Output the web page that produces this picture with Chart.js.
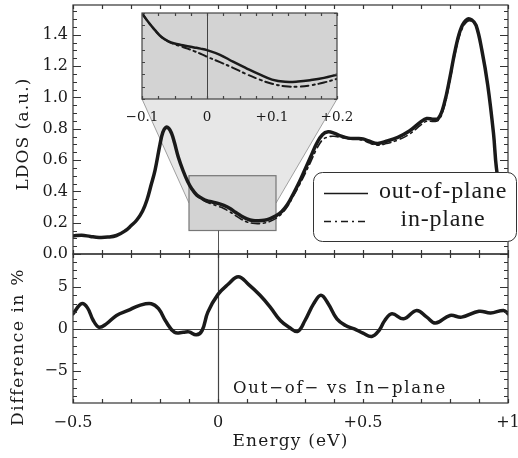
<!DOCTYPE html>
<html>
<head>
<meta charset="utf-8">
<script src="https://cdn.jsdelivr.net/npm/chart.js@4.4.1/dist/chart.umd.min.js"></script>
<style>
  html, body { margin: 0; padding: 0; background: #fff; }
  #wrap { position: relative; width: 518px; height: 458px; }
  #wrap canvas { position: absolute; left: 0; top: 0; }
</style>
</head>
<body>
<div id="wrap">
  <canvas id="diffChart" width="518" height="458"></canvas>
  <canvas id="ldosChart" width="518" height="458"></canvas>
  <canvas id="insetChart" width="518" height="458"></canvas>
</div>
<script>
// Données
const energy = [-0.50, -0.47, -0.44, -0.41, -0.38, -0.35, -0.32, -0.30, -0.28, -0.26, -0.245, -0.23, -0.217, -0.20, -0.19, -0.18, -0.17, -0.16, -0.15, -0.137, -0.12, -0.105, -0.09, -0.073, -0.055, -0.039, -0.02, 0.00, 0.02, 0.04, 0.06, 0.08, 0.10, 0.12, 0.14, 0.16, 0.18, 0.20, 0.22, 0.24, 0.26, 0.28, 0.30, 0.32, 0.34, 0.36, 0.38, 0.40, 0.42, 0.45, 0.48, 0.50, 0.52, 0.55, 0.58, 0.62, 0.66, 0.70, 0.72, 0.74, 0.76, 0.78, 0.80, 0.82, 0.84, 0.86, 0.875, 0.89, 0.91, 0.93, 0.95, 0.96, 0.98, 1.00];
const ldosOut = [0.115, 0.120, 0.112, 0.106, 0.108, 0.118, 0.148, 0.180, 0.217, 0.275, 0.345, 0.445, 0.536, 0.700, 0.778, 0.808, 0.803, 0.770, 0.710, 0.620, 0.530, 0.465, 0.415, 0.376, 0.355, 0.340, 0.332, 0.323, 0.310, 0.292, 0.267, 0.243, 0.225, 0.214, 0.212, 0.215, 0.226, 0.244, 0.272, 0.318, 0.385, 0.458, 0.540, 0.622, 0.705, 0.762, 0.780, 0.772, 0.756, 0.740, 0.738, 0.735, 0.722, 0.706, 0.720, 0.745, 0.785, 0.845, 0.865, 0.861, 0.866, 0.960, 1.130, 1.320, 1.450, 1.500, 1.495, 1.460, 1.300, 1.080, 0.770, 0.550, 0.300, 0.150];
const ldosIn = [0.115, 0.120, 0.112, 0.106, 0.108, 0.118, 0.148, 0.180, 0.217, 0.275, 0.345, 0.445, 0.536, 0.700, 0.778, 0.808, 0.803, 0.770, 0.710, 0.620, 0.530, 0.463, 0.412, 0.372, 0.348, 0.332, 0.318, 0.305, 0.290, 0.270, 0.246, 0.222, 0.205, 0.196, 0.194, 0.198, 0.209, 0.228, 0.258, 0.305, 0.370, 0.438, 0.512, 0.590, 0.670, 0.728, 0.748, 0.752, 0.745, 0.736, 0.732, 0.726, 0.710, 0.695, 0.705, 0.728, 0.765, 0.825, 0.848, 0.847, 0.853, 0.940, 1.110, 1.300, 1.430, 1.485, 1.486, 1.455, 1.300, 1.085, 0.780, 0.565, 0.310, 0.160];

const insetEnergy = [-0.10, -0.09, -0.08, -0.07, -0.06, -0.05, -0.04, -0.03, -0.02, -0.01, 0.00, 0.02, 0.04, 0.06, 0.08, 0.10, 0.12, 0.14, 0.16, 0.18, 0.20];
const insetOut = [0.499, 0.462, 0.430, 0.402, 0.386, 0.376, 0.370, 0.365, 0.360, 0.355, 0.349, 0.330, 0.302, 0.276, 0.251, 0.229, 0.220, 0.221, 0.227, 0.236, 0.249];
const insetIn = [0.499, 0.462, 0.430, 0.402, 0.385, 0.373, 0.364, 0.355, 0.345, 0.334, 0.322, 0.300, 0.277, 0.252, 0.230, 0.212, 0.202, 0.200, 0.206, 0.217, 0.232];

const diffEnergy = [-0.50, -0.47, -0.45, -0.43, -0.41, -0.385, -0.35, -0.31, -0.27, -0.23, -0.205, -0.18, -0.15, -0.12, -0.10, -0.075, -0.055, -0.035, 0.00, 0.035, 0.07, 0.105, 0.145, 0.18, 0.215, 0.245, 0.275, 0.30, 0.33, 0.355, 0.38, 0.41, 0.44, 0.47, 0.50, 0.53, 0.555, 0.575, 0.60, 0.64, 0.685, 0.72, 0.75, 0.80, 0.84, 0.90, 0.94, 0.985, 1.00];
const diffPct = [1.8, 3.0, 2.5, 1.0, 0.2, 0.6, 1.6, 2.2, 2.8, 3.0, 2.4, 0.9, -0.4, -0.4, -0.35, -0.7, -0.2, 2.0, 4.1, 5.3, 6.2, 5.3, 4.0, 2.6, 1.0, 0.2, -0.3, 1.0, 3.0, 4.0, 3.0, 1.2, 0.4, 0.0, -0.5, -0.9, -0.2, 1.0, 1.8, 1.2, 2.2, 1.4, 0.7, 1.6, 1.4, 2.1, 1.9, 2.2, 1.8];

const xTickValues = [-0.5, 0, 0.5, 1];
const xTickLabels = ['\u22120.5', '0', '+0.5', '+1'];
const ldosTickValues = [0, 0.2, 0.4, 0.6, 0.8, 1.0, 1.2, 1.4];
const diffTickValues = [-5, 0, 5];
const diffTickLabels = ['\u22125', '0', '5'];
const insetTickValues = [-0.1, 0, 0.1, 0.2];
const insetTickLabels = ['\u22120.1', '0', '+0.1', '+0.2'];
const legendLabels = ['out-of-plane', 'in-plane'];

// Mise en page (pixels)
const PLOT = { left: 73, right: 508, top: 5, mid: 254, bottom: 403 };
const INSET = { left: 142, right: 337, top: 13, bottom: 99 };
const ZOOM = { x0: -0.1, x1: 0.2, y0: 0.15, y1: 0.5 };
const INK = '#1a1a1a';
const tickFont = { family: 'DejaVu Serif', size: 16 };

const pts = (xs, ys) => xs.map((x, i) => ({ x, y: ys[i] }));

function steps(min, max, step) {
    const out = [];
    for (let k = Math.ceil(min / step - 1e-6); k * step <= max + 1e-9; k++) out.push(k * step);
    return out;
}
const isMult = (v, m) => Math.abs(v / m - Math.round(v / m)) < 1e-6;

function drawText(ctx, txt, x, y, font, spacing, angle, align) {
    ctx.save();
    ctx.translate(x, y);
    if (angle) ctx.rotate(angle);
    ctx.font = font;
    ctx.letterSpacing = spacing + 'px';
    ctx.fillStyle = INK;
    ctx.textAlign = align || 'center';
    ctx.textBaseline = 'middle';
    ctx.fillText(txt, 0, 0);
    ctx.restore();
}

// cadre + graduations vers l'intérieur
const framePlugin = {
    id: 'frame',
    afterDatasetsDraw(chart, args, o) {
        const { ctx, chartArea: a } = chart;
        const x = chart.scales.x, y = chart.scales.y;
        ctx.save();
        ctx.strokeStyle = o.color;
        ctx.lineWidth = o.lineWidth;
        ctx.beginPath();
        steps(x.min, x.max, o.xStep).forEach(v => {
            const p = Math.round(x.getPixelForValue(v)) + 0.5;
            ctx.moveTo(p, a.top); ctx.lineTo(p, a.top + o.minor);
            ctx.moveTo(p, a.bottom); ctx.lineTo(p, a.bottom - o.minor);
        });
        steps(y.min, y.max, o.yStep).forEach(v => {
            const p = Math.round(y.getPixelForValue(v)) + 0.5;
            const len = o.yMajor && isMult(v, o.yMajor) ? o.major : o.minor;
            ctx.moveTo(a.left, p); ctx.lineTo(a.left + len, p);
            ctx.moveTo(a.right, p); ctx.lineTo(a.right - len, p);
        });
        ctx.stroke();
        ctx.strokeRect(a.left, a.top, a.width, a.height);
        ctx.restore();
    }
};

const base = {
    responsive: false,
    animation: false,
    devicePixelRatio: 1,
    events: [],
    elements: {
        point: { radius: 0 },
        line: { tension: 0.4, borderCapStyle: 'round', borderJoinStyle: 'round', fill: false }
    }
};

function hiddenGrid() {
    return { grid: { display: false, drawTicks: false }, border: { display: false } };
}

// 1. Panneau du bas : différence en %
new Chart(document.getElementById('diffChart'), {
    type: 'line',
    data: {
        datasets: [{ data: pts(diffEnergy, diffPct), borderColor: INK, borderWidth: 3.5 }]
    },
    options: {
        ...base,
        layout: { padding: { left: 0, top: PLOT.mid, right: 518 - PLOT.right, bottom: 0 } },
        scales: {
            x: {
                type: 'linear', min: -0.5, max: 1, ...hiddenGrid(),
                afterBuildTicks: s => { s.ticks = xTickValues.map(v => ({ value: v })); },
                afterFit: s => { s.height = 458 - PLOT.bottom; s.paddingLeft = 0; s.paddingRight = 0; },
                ticks: { padding: 10, font: tickFont, color: INK, autoSkip: false, maxRotation: 0, callback: (v, i) => xTickLabels[i] }
            },
            y: {
                type: 'linear', min: -8.8, max: 8.9, ...hiddenGrid(),
                afterBuildTicks: s => { s.ticks = diffTickValues.map(v => ({ value: v })); },
                afterFit: s => { s.width = PLOT.left; s.paddingTop = 0; s.paddingBottom = 0; },
                ticks: { padding: 5, font: tickFont, color: INK, autoSkip: false, callback: (v, i) => diffTickLabels[i] }
            }
        },
        plugins: {
            legend: { display: false },
            tooltip: { enabled: false },
            frame: { color: '#333', lineWidth: 1.2, xStep: 0.1, yStep: 1, yMajor: 5, major: 8, minor: 4 }
        }
    },
    plugins: [framePlugin, {
        id: 'diffDeco',
        beforeDatasetsDraw(chart) {
            const { ctx, chartArea: a, scales: { x, y } } = chart;
            ctx.save();
            ctx.strokeStyle = '#444';
            ctx.lineWidth = 1.2;
            ctx.beginPath();
            const py = Math.round(y.getPixelForValue(0)) + 0.5;
            ctx.moveTo(a.left, py); ctx.lineTo(a.right, py);
            const px = Math.round(x.getPixelForValue(0)) + 0.5;
            ctx.moveTo(px, a.top); ctx.lineTo(px, a.bottom);
            ctx.stroke();
            ctx.restore();
        },
        afterDraw(chart) {
            const { ctx, chartArea: a } = chart;
            drawText(ctx, 'Out\u2212of\u2212 vs In\u2212plane', 233, a.bottom - 14, '16.5px "DejaVu Serif"', 1.8, 0, 'left');
            drawText(ctx, 'Difference in %', 19, 347, '17px "DejaVu Serif"', 1.6, -Math.PI / 2);
            drawText(ctx, 'Energy (eV)', (a.left + a.right) / 2, 442, '17px "DejaVu Serif"', 1.2);
        }
    }]
});

// 2. Panneau du haut : LDOS
new Chart(document.getElementById('ldosChart'), {
    type: 'line',
    data: {
        datasets: [
            { label: legendLabels[0], data: pts(energy, ldosOut), borderColor: INK, borderWidth: 3.5 },
            { label: legendLabels[1], data: pts(energy, ldosIn), borderColor: INK, borderWidth: 1.6, borderDash: [8, 4, 2, 4] }
        ]
    },
    options: {
        ...base,
        layout: { padding: { left: 0, top: PLOT.top, right: 518 - PLOT.right, bottom: 458 - PLOT.mid } },
        scales: {
            x: { type: 'linear', min: -0.5, max: 1, display: false },
            y: {
                type: 'linear', min: 0, max: 1.59, ...hiddenGrid(),
                afterBuildTicks: s => { s.ticks = ldosTickValues.map(v => ({ value: v })); },
                afterFit: s => { s.width = PLOT.left; s.paddingTop = 0; s.paddingBottom = 0; },
                ticks: { padding: 5, font: tickFont, color: INK, autoSkip: false, callback: v => v.toFixed(1) }
            }
        },
        plugins: {
            legend: { display: false },
            tooltip: { enabled: false },
            frame: { color: '#333', lineWidth: 1.2, xStep: 0.1, yStep: 0.05, yMajor: 0.2, major: 8, minor: 4 }
        }
    },
    plugins: [framePlugin, {
        id: 'zoomDeco',
        beforeDatasetsDraw(chart) {
            const { ctx, chartArea: a, scales: { x, y } } = chart;
            const bx0 = x.getPixelForValue(ZOOM.x0), bx1 = x.getPixelForValue(ZOOM.x1);
            const byTop = y.getPixelForValue(ZOOM.y1), byBot = y.getPixelForValue(ZOOM.y0);
            const midY = (byTop + byBot) / 2;
            ctx.save();
            // cône de zoom
            ctx.fillStyle = '#e7e7e7';
            ctx.beginPath();
            ctx.moveTo(INSET.left, INSET.bottom);
            ctx.lineTo(INSET.right, INSET.bottom);
            ctx.lineTo(bx1, midY);
            ctx.lineTo(bx0, midY);
            ctx.closePath();
            ctx.fill();
            ctx.strokeStyle = '#8a8a8a';
            ctx.lineWidth = 0.8;
            ctx.beginPath();
            ctx.moveTo(INSET.left, INSET.bottom); ctx.lineTo(bx0, midY);
            ctx.moveTo(INSET.right, INSET.bottom); ctx.lineTo(bx1, midY);
            ctx.stroke();
            // zone agrandie
            ctx.fillStyle = '#d3d3d3';
            ctx.fillRect(bx0, byTop, bx1 - bx0, byBot - byTop);
            ctx.strokeStyle = '#777';
            ctx.lineWidth = 1.2;
            ctx.strokeRect(bx0, byTop, bx1 - bx0, byBot - byTop);
            // trait vertical à E = 0
            const px = Math.round(x.getPixelForValue(0)) + 0.5;
            ctx.strokeStyle = '#555';
            ctx.lineWidth = 1;
            ctx.beginPath();
            ctx.moveTo(px, byBot); ctx.lineTo(px, a.bottom);
            ctx.stroke();
            ctx.restore();
        },
        afterDraw(chart) {
            const { ctx } = chart;
            drawText(ctx, 'LDOS (a.u.)', 24, 134, '17px "DejaVu Serif"', 1.1, -Math.PI / 2);
            // légende
            ctx.save();
            ctx.fillStyle = '#fff';
            ctx.strokeStyle = '#333';
            ctx.lineWidth = 1;
            ctx.beginPath();
            ctx.roundRect(313.5, 172.5, 203, 69, 9);
            ctx.fill();
            ctx.stroke();
            ctx.strokeStyle = INK;
            ctx.lineWidth = 1.5;
            ctx.beginPath();
            ctx.moveTo(324, 193.5); ctx.lineTo(368, 193.5);
            ctx.stroke();
            ctx.setLineDash([7, 4, 2, 4]);
            ctx.beginPath();
            ctx.moveTo(324, 221.5); ctx.lineTo(368, 221.5);
            ctx.stroke();
            ctx.restore();
            drawText(ctx, legendLabels[0], 443, 192, '24px "Liberation Serif"', 0.8);
            drawText(ctx, legendLabels[1], 443, 220, '24px "Liberation Serif"', 0.8);
        }
    }]
});

// 3. Encart agrandi
new Chart(document.getElementById('insetChart'), {
    type: 'line',
    data: {
        datasets: [
            { data: pts(insetEnergy, insetOut), borderColor: INK, borderWidth: 2.5 },
            { data: pts(insetEnergy, insetIn), borderColor: INK, borderWidth: 2, borderDash: [8, 4, 2, 4] }
        ]
    },
    options: {
        ...base,
        layout: { padding: { left: INSET.left, top: INSET.top, right: 518 - INSET.right, bottom: 458 - INSET.bottom - 25 } },
        scales: {
            x: {
                type: 'linear', min: ZOOM.x0, max: ZOOM.x1, ...hiddenGrid(),
                afterBuildTicks: s => { s.ticks = insetTickValues.map(v => ({ value: v })); },
                afterFit: s => { s.height = 25; s.paddingLeft = 0; s.paddingRight = 0; },
                ticks: { padding: 10, font: { family: 'DejaVu Serif', size: 13.5 }, color: INK, autoSkip: false, maxRotation: 0, callback: (v, i) => insetTickLabels[i] }
            },
            y: { type: 'linear', min: ZOOM.y0, max: ZOOM.y1, display: false }
        },
        plugins: {
            legend: { display: false },
            tooltip: { enabled: false },
            frame: { color: '#444', lineWidth: 1.2, xStep: 0.025, yStep: 0.05, minor: 3 }
        }
    },
    plugins: [framePlugin, {
        id: 'insetBg',
        beforeDatasetsDraw(chart) {
            const { ctx, chartArea: a, scales: { x } } = chart;
            ctx.save();
            ctx.fillStyle = '#d3d3d3';
            ctx.fillRect(a.left, a.top, a.width, a.height);
            const px = Math.round(x.getPixelForValue(0)) + 0.5;
            ctx.strokeStyle = '#444';
            ctx.lineWidth = 1;
            ctx.beginPath();
            ctx.moveTo(px, a.top); ctx.lineTo(px, a.bottom);
            ctx.stroke();
            ctx.restore();
        }
    }]
});
</script>
</body>
</html>
